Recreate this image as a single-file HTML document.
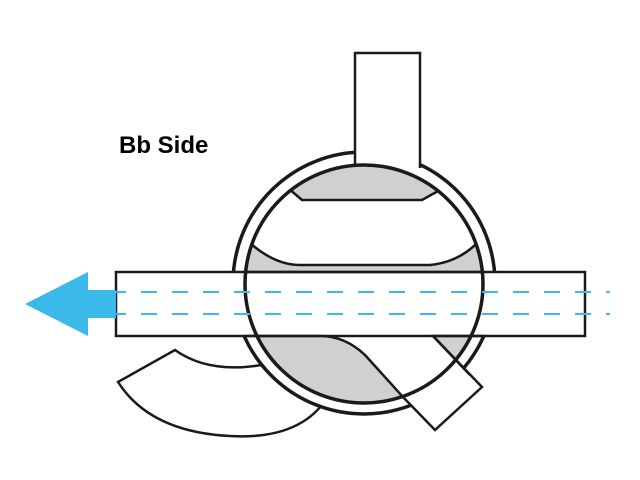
<!DOCTYPE html>
<html><head><style>
html,body{margin:0;padding:0;background:#fff;}
svg{display:block;}
</style></head><body>
<svg width="640" height="480" viewBox="0 0 640 480" xmlns="http://www.w3.org/2000/svg">
<defs>
<clipPath id="ci"><circle cx="364" cy="284" r="119"/></clipPath>
</defs>
<path d="M175,350 Q210,375 267,364 L327,398 Q300,440 230,436 Q150,432 118,382 Z" fill="#fff" stroke="#1a1a1a" stroke-width="2.5"/>
<circle cx="364" cy="283" r="131" fill="#fff" stroke="#1a1a1a" stroke-width="3.5"/>
<rect x="355" y="53" width="65" height="115" fill="#fff" stroke="none"/>
<path d="M355,168 L355,53 L420,53 L420,168" fill="none" stroke="#1a1a1a" stroke-width="2.5"/>
<rect x="116" y="272" width="469" height="64" fill="#fff" stroke="#1a1a1a" stroke-width="2.5"/>
<circle cx="364" cy="284" r="119" fill="#fff"/>
<g clip-path="url(#ci)" stroke="#1a1a1a" stroke-width="2.5" fill="#d0d0d0">
<path d="M280,160 L288,188 L302,200 L422,200 L440,190 L460,150 Z"/>
<path d="M230,235 L250,243 Q275,265 300,265 L430,265 Q460,262 480,240 L500,240 L500,272 L230,272 Z" />
<path d="M230,336 L320,336 Q345,336 365,355 L403,397 L420,420 L230,420 Z"/>
<path d="M433,336 L500,336 L500,420 L470,420 Z"/>
</g>
<line x1="245" y1="272" x2="484" y2="272" stroke="#1a1a1a" stroke-width="2.5"/>
<line x1="245" y1="336" x2="484" y2="336" stroke="#1a1a1a" stroke-width="2.5"/>
<path d="M433,336 L482,387 L435,430 L403,397" fill="#fff" stroke="#1a1a1a" stroke-width="2.5"/>
<path d="M433,336 L470,375" fill="none" stroke="#1a1a1a" stroke-width="2.5"/>
<circle cx="364" cy="284" r="119" fill="none" stroke="#1a1a1a" stroke-width="3.5"/>
<line x1="110" y1="292" x2="610" y2="292" stroke="#3bb9ea" stroke-width="2" stroke-dasharray="16,15"/>
<line x1="110" y1="314" x2="610" y2="314" stroke="#3bb9ea" stroke-width="2" stroke-dasharray="16,15"/>
<path d="M25,304 L88,272 L88,290 L116,290 L116,318 L88,318 L88,336 Z" fill="#3bb9ea"/>
<text x="119" y="153" font-family="Liberation Sans, sans-serif" font-weight="bold" font-size="24" fill="#000">Bb Side</text>
</svg>
</body></html>
